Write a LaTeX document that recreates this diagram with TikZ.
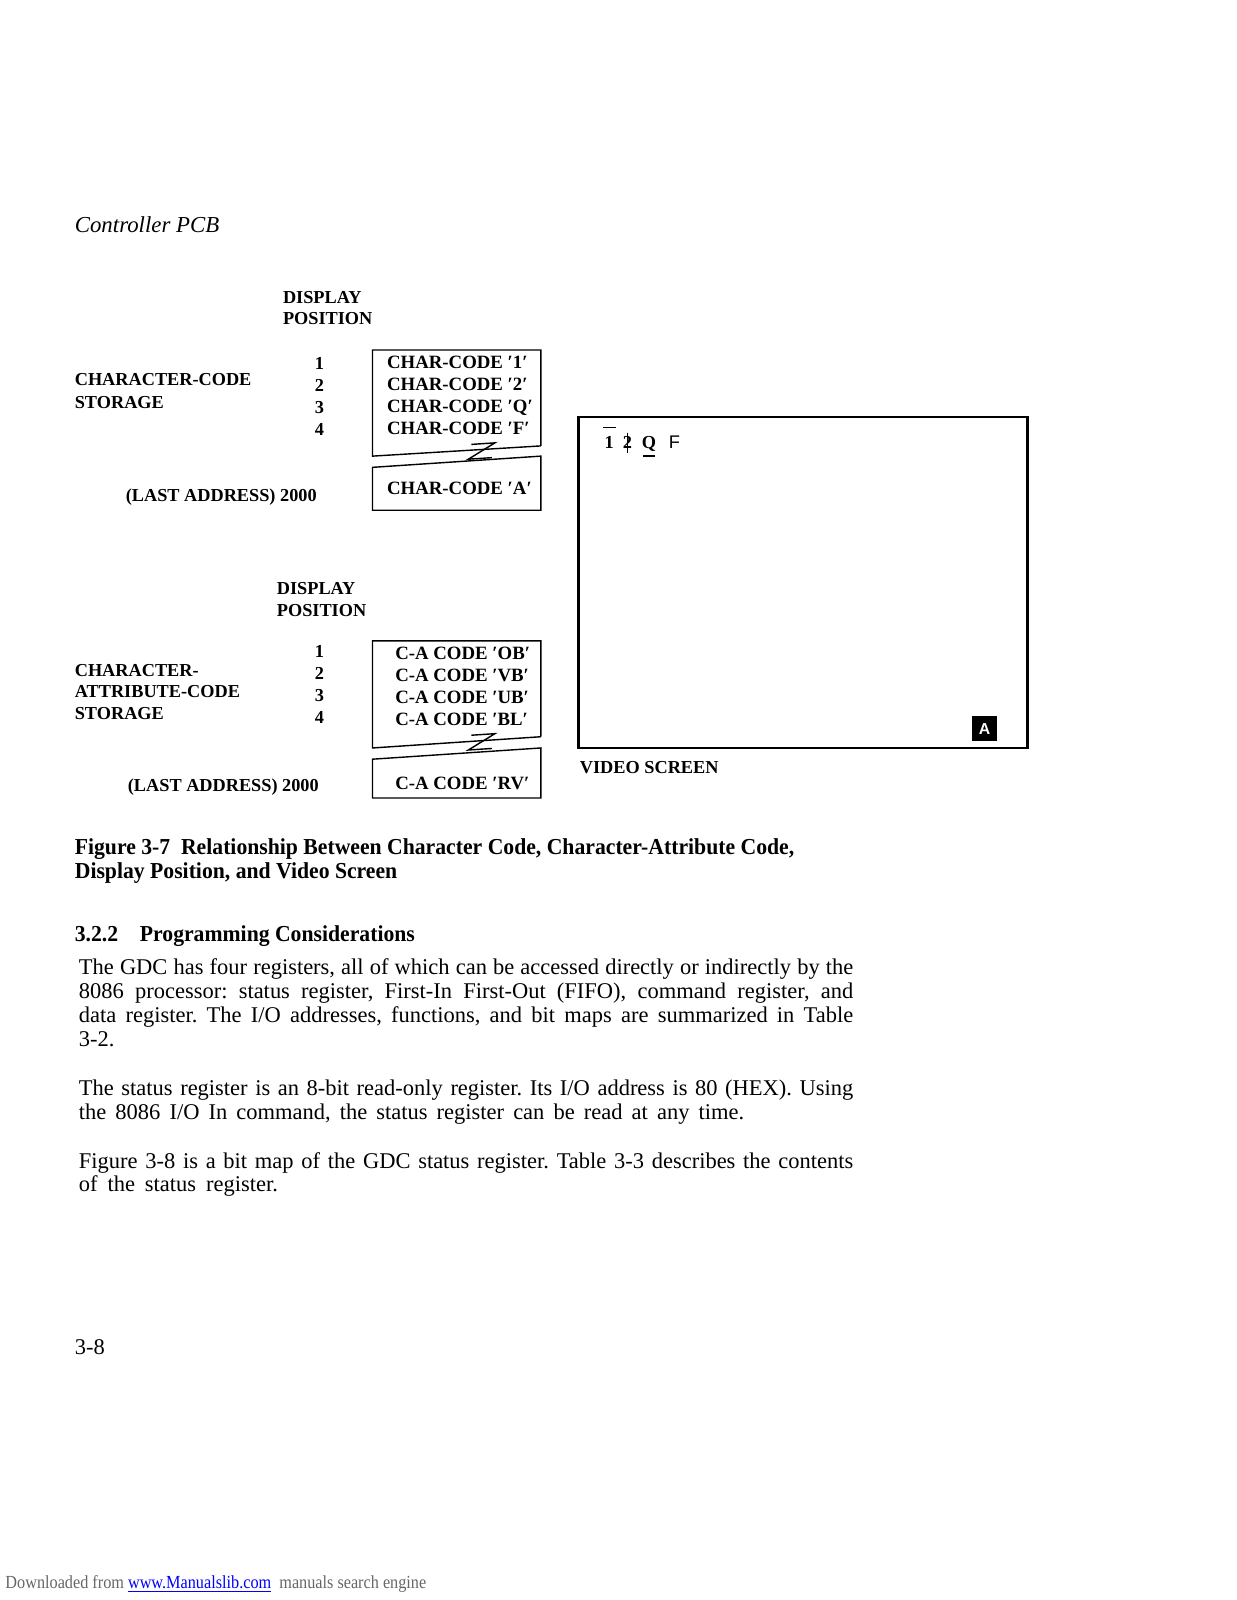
\documentclass[tikz,border=0pt]{standalone}
\usepackage{fontspec}
\setmainfont{Liberation Serif}
\setsansfont{Liberation Sans}
\newcommand\pxw[1]{\dimexpr #1\dimexpr 0.5808pt\relax\relax}
\newcommand\bline[2]{\makebox[\dimexpr #1\dimexpr 0.5808pt\relax\relax][s]{#2}}
\begin{document}
\frenchspacing
\begin{tikzpicture}[x=0.020412cm,y=-0.020412cm,
  lbl/.style={anchor=base west, inner sep=0pt, font=\fontsize{10.4}{12}\selectfont\bfseries},
  boxt/.style={anchor=base west, inner sep=0pt, font=\fontsize{10.7}{12}\selectfont\bfseries},
  num/.style={anchor=base, inner sep=0pt, font=\fontsize{10.4}{12}\selectfont\bfseries},
  body/.style={anchor=base west, inner sep=0pt, font=\fontsize{12.8}{14}\selectfont\frenchspacing},
  capt/.style={anchor=base west, inner sep=0pt, font=\fontsize{13}{15}\selectfont\bfseries},
  frame/.style={line width=0.8pt, line join=miter},
  scr/.style={line width=1.3pt}]
\useasboundingbox (0,0) rectangle (1212,1568);

% header
\node[anchor=base west, inner sep=0pt, font=\fontsize{13}{15}\selectfont\itshape] (hdr) at (73,228) {Controller PCB};

% ---------- upper diagram ----------
\node[lbl] (dp1) at (277,297) {DISPLAY};
\node[lbl] (dp1b) at (277,318) {POSITION};
\node[num] (n11) at (313,362) {1};
\node[num] (n12) at (313,384) {2};
\node[num] (n13) at (313,405) {3};
\node[num] (n14) at (313,427) {4};
\node[lbl] (cc1) at (73,378) {CHARACTER-CODE};
\node[lbl] (cc2) at (73,400) {STORAGE};
\node[lbl] (la1) at (123,491) {(LAST ADDRESS) 2000};

\draw[frame] (530,437) -- (530,343) -- (365,343) -- (365,447) -- (530,437);
\draw[frame] (365,458) -- (530,447) -- (530,500) -- (365,500) -- cycle;
\draw[frame] (462,435.5) -- (485,434) -- (459,450) -- (482,448.5);
\node[boxt] (b11) at (379,361) {CHAR-CODE ′1′};
\node[boxt] (b12) at (379,383) {CHAR-CODE ′2′};
\node[boxt] (b13) at (379,404) {CHAR-CODE ′Q′};
\node[boxt] (b14) at (379,426) {CHAR-CODE ′F′};
\node[boxt] (b15) at (379,485) {CHAR-CODE ′A′};

% ---------- lower diagram ----------
\node[lbl] (dp2) at (271,583) {DISPLAY};
\node[lbl] (dp2b) at (271,604) {POSITION};
\node[num] (n21) at (313,644) {1};
\node[num] (n22) at (313,666) {2};
\node[num] (n23) at (313,687) {3};
\node[num] (n24) at (313,709) {4};
\node[lbl] (ca1) at (73,663) {CHARACTER-};
\node[lbl] (ca2) at (73,684) {ATTRIBUTE-CODE};
\node[lbl] (ca3) at (73,705) {STORAGE};
\node[lbl] (la2) at (125,776) {(LAST ADDRESS) 2000};

\draw[frame] (530,722) -- (530,628) -- (365,628) -- (365,733) -- (530,722);
\draw[frame] (365,744) -- (530,733) -- (530,782) -- (365,782) -- cycle;
\draw[frame] (462,720.5) -- (485,719) -- (459,735) -- (482,733.5);
\node[boxt] (b21) at (387,646) {C-A CODE ′OB′};
\node[boxt] (b22) at (387,668) {C-A CODE ′VB′};
\node[boxt] (b23) at (387,689) {C-A CODE ′UB′};
\node[boxt] (b24) at (387,711) {C-A CODE ′BL′};
\node[boxt] (b25) at (387,774) {C-A CODE ′RV′};

% ---------- video screen ----------
\draw[scr] (567,409) rectangle (1007,733);
\node[lbl] (vs) at (568,758) {VIDEO SCREEN};
\node[num] (s1) at (597,440) {1};
\draw[line width=0.9pt] (591,419) -- (604,419);
\node[num] (s2) at (615,440) {2};
\draw[line width=0.9pt] (615,424) -- (615,444);
\node[num] (s3) at (636,440) {Q};
\draw[line width=0.9pt] (630,447) -- (642,447);
\node[anchor=base, inner sep=0pt, font=\fontsize{10.4}{12}\selectfont\sffamily] (s4) at (661,440) {F};
\node[fill=black, minimum size=24*0.020412cm, inner sep=0pt, text=white, font=\fontsize{9}{10}\selectfont\sffamily\bfseries] (sa) at (965,714) {A};

% ---------- caption & text ----------
\node[capt] (cap1) at (73,837) {\scalebox{0.95}[1]{Figure 3-7\ \ Relationship Between Character Code, Character-Attribute Code,}};
\node[capt] (cap2) at (73,861) {\scalebox{0.95}[1]{Display Position, and Video Screen}};
\node[capt] (sec) at (73,923) {\scalebox{0.95}[1]{3.2.2\quad Programming Considerations}};

\node[body] (p1) at (77,955) {\bline{759}{The GDC has four registers, all of which can be accessed directly or indirectly by the}};
\node[body] (p2) at (77,979) {\bline{759}{8086 processor:\ status register, First-In First-Out (FIFO), command register, and}};
\node[body] (p3) at (77,1002) {\bline{759}{data register. The I/O addresses, functions, and bit maps are summarized in Table}};
\node[body] (p4) at (77,1026) {3-2.};
\node[body] (p5) at (77,1074) {\bline{759}{The status register is an 8-bit read-only register. Its I/O address is 80 (HEX). Using}};
\node[body] (p6) at (77,1097) {\bline{652}{the 8086 I/O In command, the status register can be read at any time.}};
\node[body] (p7) at (77,1145) {\bline{759}{Figure 3-8 is a bit map of the GDC status register. Table 3-3 describes the contents}};
\node[body] (p8) at (77,1168) {\bline{195}{of the status register.}};

\node[body] (pg) at (73,1327) {3-8};

\node[anchor=base west, inner sep=0pt, font=\fontsize{10.5}{12}\selectfont, text=black!60] (ft) at (5,1557)
  {\scalebox{0.88}[1]{Downloaded from \textcolor{blue}{\underline{www.Manualslib.com}}\ \ manuals search engine}};
\end{tikzpicture}
\end{document}
